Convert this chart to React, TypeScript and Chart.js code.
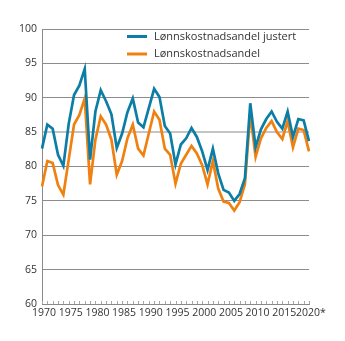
import React, { useEffect, useRef } from "react";
import { Chart, registerables } from "chart.js";

Chart.register(...registerables);

const years: string[] = [];
for (let y = 1970; y <= 2020; y++) years.push(String(y));

const justertLabel = "Lønnskostnadsandel justert";
const andelLabel = "Lønnskostnadsandel";

const justert = [
  82.6, 86.1, 85.5, 81.7, 80.1, 86.2, 90.4, 91.8, 94.2, 81.0,
  88.0, 91.1, 89.5, 87.6, 82.7, 84.8, 87.9, 89.9, 86.4, 85.7,
  88.5, 91.3, 90.1, 85.9, 84.8, 80.3, 83.2, 84.1, 85.6, 84.3,
  82.2, 79.5, 82.6, 79.0, 76.6, 76.2, 75.0, 76.0, 78.3, 89.2,
  82.8, 85.4, 86.9, 88.0, 86.5, 85.5, 88.0, 84.3, 86.9, 86.7,
  83.7,
];

const andel = [
  77.1, 80.8, 80.5, 77.3, 75.9, 81.0, 86.1, 87.5, 89.9, 77.4,
  83.9, 87.3, 86.1, 83.9, 78.8, 80.8, 84.1, 86.1, 82.6, 81.6,
  84.8, 88.0, 86.8, 82.6, 81.7, 77.5, 80.4, 81.7, 83.0, 81.9,
  80.2, 77.4, 80.8, 76.8, 74.9, 74.7, 73.6, 74.8, 77.4, 87.7,
  81.4, 84.1, 85.6, 86.6, 85.0, 84.0, 86.6, 82.8, 85.5, 85.3,
  82.2,
];

const BLUE = "#0c7ea6";
const ORANGE = "#f0800f";
const FONT = "'Open Sans', 'Noto Sans', sans-serif";

const bottomTicks = {
  id: "bottomTicks",
  afterDatasetsDraw(chart: any) {
    const { ctx, chartArea, scales } = chart;
    const x = scales.x;
    ctx.save();
    ctx.strokeStyle = "#a8a8a8";
    ctx.lineWidth = 1;
    for (let i = 0; i < years.length; i++) {
      const px = Math.round(x.getPixelForValue(i)) + 0.5;
      ctx.beginPath();
      ctx.moveTo(px, chartArea.bottom);
      ctx.lineTo(px, chartArea.bottom - 3);
      ctx.stroke();
    }
    ctx.restore();
  },
};

const legendPlugin = {
  id: "customLegend",
  afterDraw(chart: any) {
    const { ctx } = chart;
    const items = [
      { label: justertLabel, color: BLUE, y: 36.5 },
      { label: andelLabel, color: ORANGE, y: 54 },
    ];
    ctx.save();
    ctx.font = `11px ${FONT}`;
    ctx.textBaseline = "middle";
    ctx.textAlign = "left";
    for (const it of items) {
      ctx.strokeStyle = it.color;
      ctx.lineWidth = 3;
      ctx.beginPath();
      ctx.moveTo(127, it.y);
      ctx.lineTo(147, it.y);
      ctx.stroke();
      ctx.fillStyle = "#333333";
      ctx.fillText(it.label, 154, it.y);
    }
    ctx.restore();
  },
};

export default function App() {
  const ref = useRef<HTMLCanvasElement | null>(null);

  useEffect(() => {
    if (!ref.current) return;
    const chart = new Chart(ref.current, {
      type: "line",
      data: {
        labels: years,
        datasets: [
          {
            label: justertLabel,
            data: justert,
            borderColor: BLUE,
            backgroundColor: BLUE,
            borderWidth: 2.7,
            pointRadius: 0,
            tension: 0,
          },
          {
            label: andelLabel,
            data: andel,
            borderColor: ORANGE,
            backgroundColor: ORANGE,
            borderWidth: 2.7,
            pointRadius: 0,
            tension: 0,
          },
        ],
      },
      options: {
        responsive: false,
        animation: false,
        events: [],
        layout: { padding: { left: 0, right: 36, top: 29, bottom: 0 } },
        plugins: {
          legend: { display: false },
          tooltip: { enabled: false },
        },
        scales: {
          x: {
            type: "category",
            offset: false,
            border: { display: true, color: "#8a8a8a", width: 1 },
            grid: { display: false, drawTicks: false },
            ticks: {
              autoSkip: false,
              maxRotation: 0,
              minRotation: 0,
              padding: 3,
              labelOffset: 2,
              color: "#333333",
              font: { family: FONT, size: 10.5 },
              callback: (_v: any, i: number) => {
                const y = Number(years[i]);
                if (y === 2020) return "2020*";
                return y % 5 === 0 ? String(y) : "";
              },
            },
            afterFit: (scale: any) => {
              scale.height = 37;
            },
          },
          y: {
            min: 60,
            max: 100,
            border: { display: true, color: "#8a8a8a", width: 1 },
            grid: {
              drawTicks: false,
              color: (c: any) => (c.tick && c.tick.value === 85 ? "#c4c4c4" : "#8c8c8c"),
              lineWidth: (c: any) => (c.tick && c.tick.value === 85 ? 2 : 1),
            },
            ticks: {
              stepSize: 5,
              padding: 5,
              color: "#333333",
              font: { family: FONT, size: 10.5 },
            },
            afterFit: (scale: any) => {
              scale.width = 42;
            },
          },
        },
      },
      plugins: [bottomTicks, legendPlugin],
    });
    return () => chart.destroy();
  }, []);

  return (
    <div style={{ position: "fixed", left: 0, top: 0, width: 345, height: 341, background: "#fff" }}>
      <canvas ref={ref} width={345} height={341} style={{ width: 345, height: 341, display: "block" }} />
    </div>
  );
}
